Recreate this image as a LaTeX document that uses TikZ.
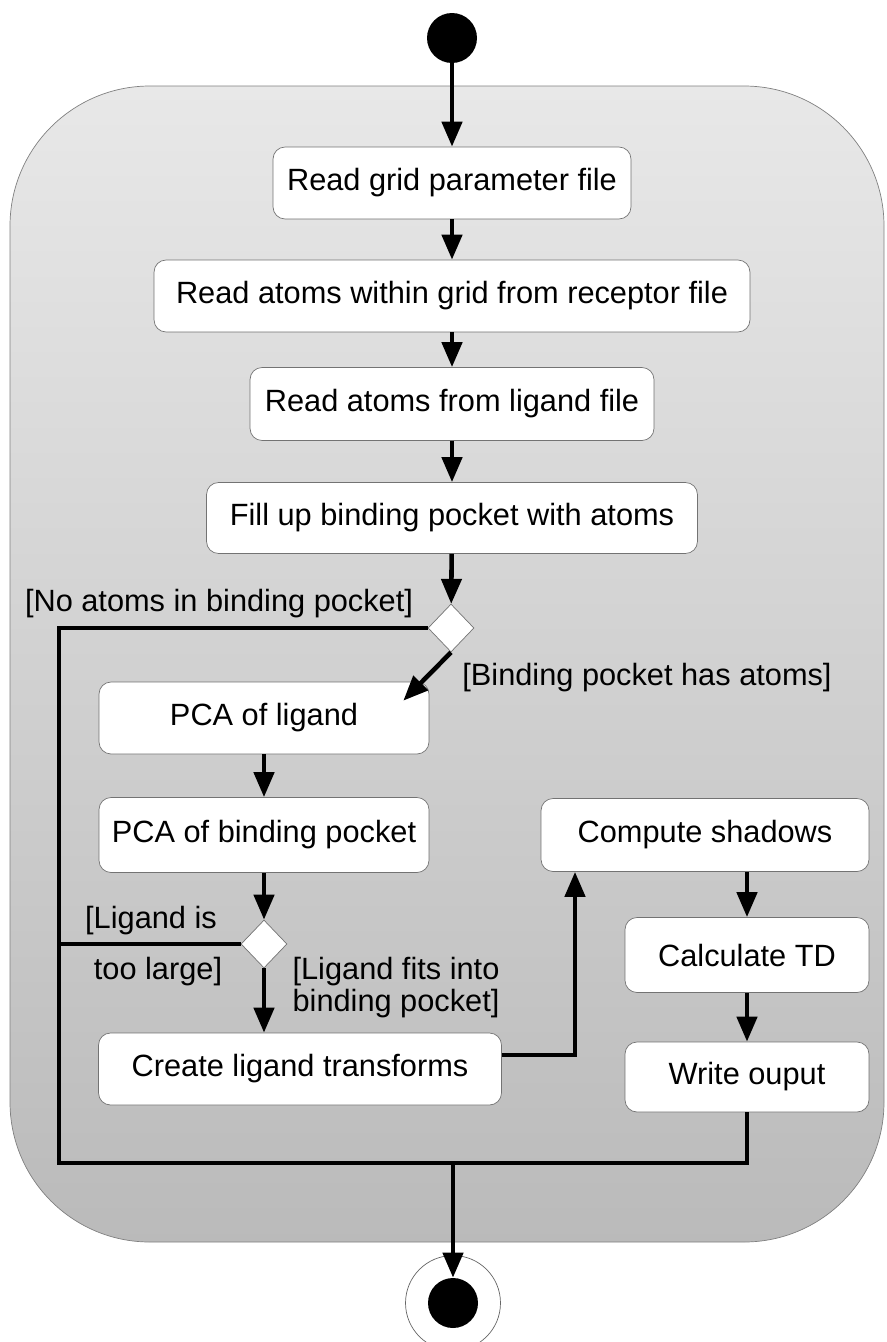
\documentclass[tikz,border=0pt]{standalone}
\usepackage{fontspec}
\setmainfont{Liberation Sans}
\usetikzlibrary{shapes.geometric,arrows.meta}
\begin{document}
\begin{tikzpicture}[x=0.02cm, y=-0.02cm, >={Triangle[length=0.5cm,width=0.4cm]},
    act/.style={draw=black!55, fill=white, rounded corners=0.24cm, inner sep=0pt, font=\fontsize{17.5}{21}\selectfont},
    choice/.style={diamond, draw=black!55, fill=white, inner sep=0pt, minimum width=0.92cm, minimum height=0.96cm},
    flow/.style={line width=2.6pt},
    guard/.style={inner sep=0pt, font=\fontsize{17.5}{18.2}\selectfont}]
    \useasboundingbox (0,0) rectangle (886,1342);
    % activity frame
    \draw[top color=black!9, bottom color=black!27, draw=black!50, rounded corners=2.8cm] (10,86) rectangle (884,1242);
    \node[circle, fill=black, minimum size=1cm, inner sep=0pt] (start) at (452,38){};
    \node[act, minimum width=7.16cm, minimum height=1.44cm] (grid) at (452,183){Read grid parameter file};
    \node[act, minimum width=11.92cm, minimum height=1.44cm] (recep) at (452,296){Read atoms within grid from receptor file};
    \node[act, minimum width=8.08cm, minimum height=1.46cm] (lig) at (452,404){Read atoms from ligand file};
    \node[act, minimum width=9.82cm, minimum height=1.42cm] (fill) at (452,518){Fill up binding pocket with atoms};
    \node[choice] (d1) at (451,628){};
    \node[act, minimum width=6.6cm, minimum height=1.44cm] (pca1) at (264,718){PCA of ligand};
    \node[act, minimum width=6.6cm, minimum height=1.5cm] (pca2) at (264,835){PCA of binding pocket};
    \node[choice] (d2) at (264,944){};
    \node[act, minimum width=8.06cm, minimum height=1.44cm] (create) at (300,1069){Create ligand transforms};
    \node[act, minimum width=6.56cm, minimum height=1.46cm] (comp) at (705,835){Compute shadows};
    \node[act, minimum width=4.88cm, minimum height=1.5cm] (calc) at (747,955){Calculate TD};
    \node[act, minimum width=4.88cm, minimum height=1.4cm] (write) at (747,1077){Write ouput};
    \node[circle, draw=black!60, minimum size=1.9cm, inner sep=0pt] (ring) at (453,1303){};
    \node[circle, fill=black, minimum size=1cm, inner sep=0pt] (stop) at (ring){};
    % guards
    \node[guard] (nolbl) at (219,604){[No atoms in binding pocket]};
    \node[guard] (yeslbl) at (647,678){[Binding pocket has atoms]};
    \node[guard] (bigA) at (151,921){[Ligand is};
    \node[guard] (bigB) at (158,972){too large]};
    \node[guard, align=center] (fits) at (396,988){[Ligand fits into\\binding pocket]};
    % flows
    \coordinate (lb) at (59,1163);
    \coordinate (up) at (575,1055);
    \draw[flow,->] (start) -- (grid);
    \draw[flow,->] (grid) -- (recep);
    \draw[flow,->] (recep) -- (lig);
    \draw[flow,->] (lig) -- (fill);
    \draw[flow,->] (fill) -- (d1);
    \draw[flow] (d1.west) -| (lb) -- (lb -| write.south) -- (write.south);
    \draw[flow] (d2.west) -- (d2.west -| lb);
    \draw[flow,->] (d1.south) -- ([xshift=-0.52cm,yshift=-0.38cm]pca1.north east);
    \draw[flow,->] (pca1) -- (pca2);
    \draw[flow,->] (pca2) -- (d2);
    \draw[flow,->] (d2.south) -- (d2.south |- create.north);
    \draw[flow,->] (create.east |- up) -| (comp.south -| up);
    \draw[flow,->] (comp.south -| calc.north) -- (calc.north);
    \draw[flow,->] (calc) -- (write);
    \draw[flow,->] (lb -| stop) -- (stop);
\end{tikzpicture}
\end{document}
